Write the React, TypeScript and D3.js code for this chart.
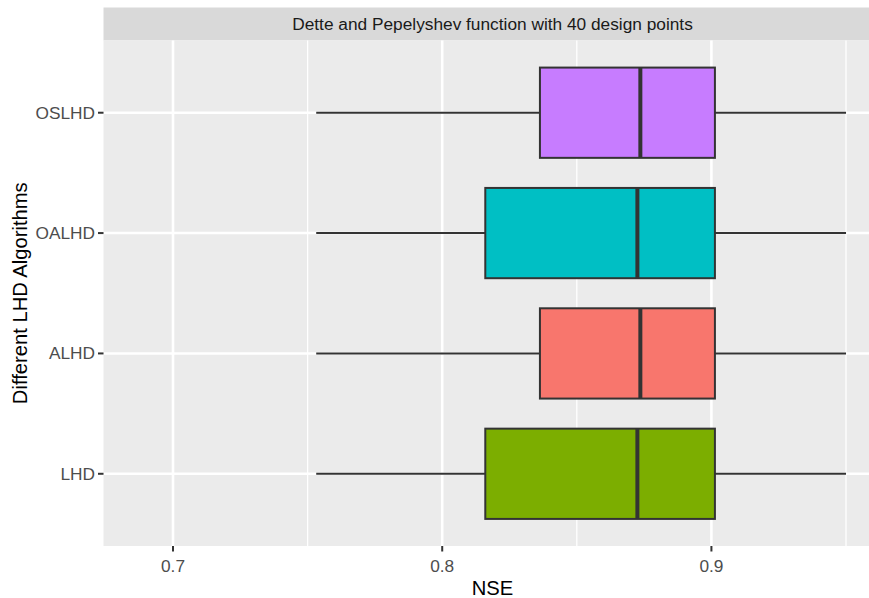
import React from "react";
import * as d3 from "d3";

// Boxplot summaries of NSE per LHD algorithm (Dette & Pepelyshev, 40 design points)
const categories = ["OSLHD", "OALHD", "ALHD", "LHD"];
const whiskerLow = [0.7532, 0.7532, 0.7532, 0.7532];
const q1 = [0.8363, 0.816, 0.8363, 0.816];
const median = [0.8736, 0.8725, 0.8736, 0.8725];
const q3 = [0.9013, 0.9013, 0.9013, 0.9013];
const whiskerHigh = [0.95, 0.95, 0.95, 0.95];
const fills = ["#C77CFF", "#00BFC4", "#F8766D", "#7CAE00"];

const majorTicks = [0.7, 0.8, 0.9];
const minorTicks = [0.75, 0.85, 0.95];

const title = "Dette and Pepelyshev function with 40 design points";
const xTitle = "NSE";
const yTitle = "Different LHD Algorithms";

const W = 869;
const H = 598;
const panel = { left: 103.5, right: 881.5, top: 40.5, bottom: 546 };
const stripTop = 7.5;

export default function App() {
  const x = d3.scaleLinear().domain([0.67418, 0.96318]).range([panel.left, panel.right]);
  const y = d3
    .scalePoint<string>()
    .domain(categories)
    .range([panel.top, panel.bottom])
    .padding(0.6);
  const step = y.step();
  const boxH = step * 0.75;
  const font = "'Liberation Sans', Arial, sans-serif";
  const tickSize = 17.3;
  const titleSize = 20.2;

  return (
    <svg
      width={W}
      height={H}
      style={{ position: "absolute", left: 0, top: 0, background: "#fff" }}
      fontFamily={font}
    >
      <defs>
        <clipPath id="plot-clip">
          <rect x={0} y={0} width={W} height={H} />
        </clipPath>
      </defs>
      <g clipPath="url(#plot-clip)">
        {/* strip */}
        <rect x={panel.left} y={stripTop} width={panel.right - panel.left} height={panel.top - stripTop} fill="#D9D9D9" />
        <text
          x={(panel.left + panel.right) / 2}
          y={(stripTop + panel.top) / 2}
          textAnchor="middle"
          dominantBaseline="central"
          fontSize={tickSize}
          fill="#1A1A1A"
        >
          {title}
        </text>

        {/* panel */}
        <rect x={panel.left} y={panel.top} width={panel.right - panel.left} height={panel.bottom - panel.top} fill="#EBEBEB" />
        {minorTicks.map((t) => (
          <line key={"mn" + t} x1={x(t)} x2={x(t)} y1={panel.top} y2={panel.bottom} stroke="#fff" strokeWidth={1.3} />
        ))}
        {majorTicks.map((t) => (
          <line key={"mj" + t} x1={x(t)} x2={x(t)} y1={panel.top} y2={panel.bottom} stroke="#fff" strokeWidth={2.6} />
        ))}
        {categories.map((c) => (
          <line key={"hg" + c} x1={panel.left} x2={panel.right} y1={y(c)!} y2={y(c)!} stroke="#fff" strokeWidth={2.6} />
        ))}

        {/* boxes */}
        {categories.map((c, i) => {
          const cy = y(c)!;
          return (
            <g key={"box" + c}>
              <line x1={x(whiskerLow[i])} x2={x(q1[i])} y1={cy} y2={cy} stroke="#333333" strokeWidth={2} />
              <line x1={x(q3[i])} x2={x(whiskerHigh[i])} y1={cy} y2={cy} stroke="#333333" strokeWidth={2} />
              <rect
                x={x(q1[i])}
                y={cy - boxH / 2}
                width={x(q3[i]) - x(q1[i])}
                height={boxH}
                fill={fills[i]}
                stroke="#333333"
                strokeWidth={2}
              />
              <line x1={x(median[i])} x2={x(median[i])} y1={cy - boxH / 2} y2={cy + boxH / 2} stroke="#333333" strokeWidth={4} />
            </g>
          );
        })}

        {/* x axis */}
        {majorTicks.map((t) => (
          <g key={"xt" + t}>
            <line x1={x(t)} x2={x(t)} y1={panel.bottom} y2={panel.bottom + 5.5} stroke="#333333" strokeWidth={2} />
            <text x={x(t)} y={panel.bottom + 19.5} textAnchor="middle" dominantBaseline="central" fontSize={tickSize} fill="#4D4D4D">
              {d3.format(".1f")(t)}
            </text>
          </g>
        ))}
        <text x={(panel.left + panel.right) / 2} y={588} textAnchor="middle" dominantBaseline="central" fontSize={titleSize} fill="#000">
          {xTitle}
        </text>

        {/* y axis */}
        {categories.map((c) => (
          <g key={"yt" + c}>
            <line x1={panel.left - 5.5} x2={panel.left} y1={y(c)!} y2={y(c)!} stroke="#333333" strokeWidth={2} />
            <text x={panel.left - 8.5} y={y(c)!} textAnchor="end" dominantBaseline="central" fontSize={tickSize} fill="#4D4D4D">
              {c}
            </text>
          </g>
        ))}
        <text
          transform={`translate(20,${(panel.top + panel.bottom) / 2}) rotate(-90)`}
          textAnchor="middle"
          dominantBaseline="central"
          fontSize={titleSize}
          fill="#000"
        >
          {yTitle}
        </text>
      </g>
    </svg>
  );
}
